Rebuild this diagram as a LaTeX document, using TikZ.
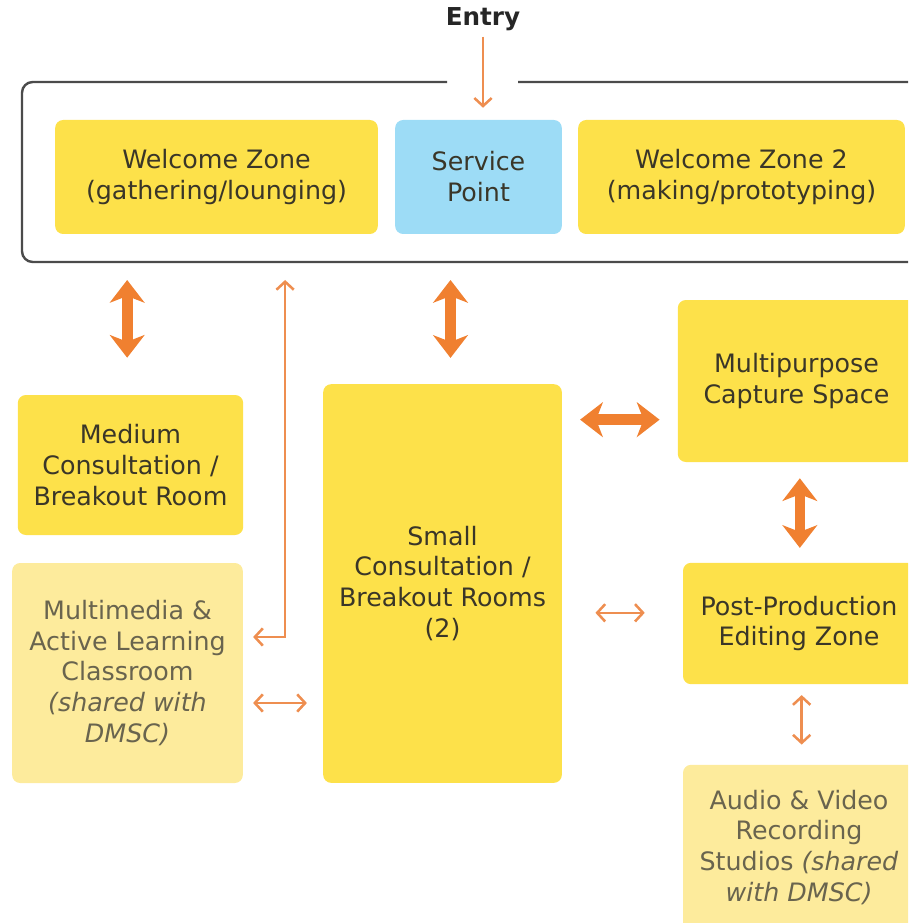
\documentclass[tikz,border=0pt]{standalone}
\usepackage{fontspec}
\setmainfont{DejaVu Sans}
\usetikzlibrary{arrows.meta, positioning, calc}
\definecolor{zoneyellow}{RGB}{253,225,74}
\definecolor{paleyellow}{RGB}{253,235,156}
\definecolor{servblue}{RGB}{157,220,246}
\definecolor{arrorange}{RGB}{240,128,48}
\definecolor{thinorange}{RGB}{238,142,80}
\definecolor{textdark}{RGB}{58,54,40}
\definecolor{textgrey}{RGB}{105,100,78}
\definecolor{framegrey}{RGB}{75,75,75}
\tikzset{
  zone/.style={rectangle, fill=zoneyellow, text=textdark, align=center,
    rounded corners=6pt, inner sep=0pt, font=\fontsize{19}{23.2}\selectfont},
  sharedzone/.style={zone, fill=paleyellow, text=textgrey},
  servicezone/.style={zone, fill=servblue},
  bigarrow/.style={{Stealth[width=26pt,length=17pt,inset=5pt]}-{Stealth[width=26pt,length=17pt,inset=5pt]},
    line width=8pt, color=arrorange},
  thinarrow/.style={{Straight Barb[length=6pt,width=13pt]}-{Straight Barb[length=6pt,width=13pt]},
    line width=1.9pt, color=thinorange},
  entryarrow/.style={-{Straight Barb[length=6pt,width=13pt]}, line width=1.9pt, color=thinorange},
  roomframe/.style={draw=framegrey, line width=1.8pt, rounded corners=8pt}
}

\begin{document}
\begin{tikzpicture}[x=0.75pt, y=-0.75pt]
  \clip (0,0) rectangle (908,923);

  % entry and top row
  \node[font=\fontsize{18.5}{21}\selectfont\bfseries, text=black!85] (entry) at (483,19) {Entry};
  \node[zone, minimum width=242pt, minimum height=85.5pt] (welcome) at (216.5,177)
    {Welcome Zone\\(gathering/lounging)};
  \node[servicezone, minimum width=125pt, minimum height=85.5pt] (service) at (478.5,177)
    {Service\\Point};
  \node[zone, minimum width=245pt, minimum height=85.5pt] (welcome2) at (741.5,177)
    {Welcome Zone 2\\(making/prototyping)};

  \draw[roomframe] (447,82) -- (22,82) -- (22,262) -- (935,262) -- (935,82) -- (518,82);
  \coordinate (frameS) at (0,262);

  % lower rooms
  \node[zone, minimum width=169pt, minimum height=105pt] (medium) at (130.5,465)
    {Medium\\Consultation /\\Breakout Room};
  \node[sharedzone, minimum width=173pt, minimum height=165pt] (multimedia) at (127.5,673)
    {Multimedia \&\\Active Learning\\Classroom\\\textit{(shared with}\\\textit{DMSC)}};
  \node[zone, minimum width=179pt, minimum height=299pt] (small) at (442.5,583.5)
    {Small\\Consultation /\\Breakout Rooms\\(2)};
  \node[zone, minimum width=178pt, minimum height=121.5pt] (capture) at (796.5,381)
    {Multipurpose\\Capture Space};
  \node[zone, minimum width=174pt, minimum height=91pt] (post) at (799,623.5)
    {Post-Production\\Editing Zone};
  \node[sharedzone, minimum width=174pt, minimum height=124pt] (audio) at (799,847.5)
    {Audio \& Video\\Recording\\Studios \textit{(shared}\\\textit{with DMSC)}};

  % connectors
  \draw[entryarrow, shorten <=1pt, shorten >=9pt] (entry.south) -- (entry.south |- service.north);
  \draw[bigarrow, shorten <=27.75pt, shorten >=13.5pt]
    ([xshift=-2.5pt]medium.north) -- ([xshift=-2.5pt]medium.north |- frameS);
  \draw[bigarrow, shorten <=19.5pt, shorten >=13.5pt]
    ([xshift=6pt]small.north) -- ([xshift=6pt]small.north |- frameS);
  \draw[bigarrow, shorten <=13.5pt, shorten >=13.5pt]
    ([yshift=-29pt]capture.west) -- ([yshift=-29pt]capture.west -| small.east);
  \draw[bigarrow, shorten <=12pt, shorten >=11pt]
    ([xshift=2.5pt]capture.south) -- ([xshift=2.5pt]capture.south |- post.north);
  \draw[thinarrow, shorten <=8pt, shorten >=15pt]
    ([xshift=2pt]post.south) -- ([xshift=2pt]post.south |- audio.north);
  \draw[thinarrow, shorten <=28.5pt, shorten >=25pt]
    ([yshift=8pt]post.west) -- ([yshift=8pt]post.west -| small.east);
  \draw[thinarrow, shorten <=7.5pt, shorten >=12pt]
    ([yshift=-22.5pt]multimedia.east) -- ([yshift=-22.5pt]multimedia.east -| small.west);
  \draw[thinarrow, shorten <=7.5pt, shorten >=13.5pt]
    ([yshift=27pt]multimedia.east) -| ([xshift=31.5pt]multimedia.east |- frameS);
\end{tikzpicture}
\end{document}
